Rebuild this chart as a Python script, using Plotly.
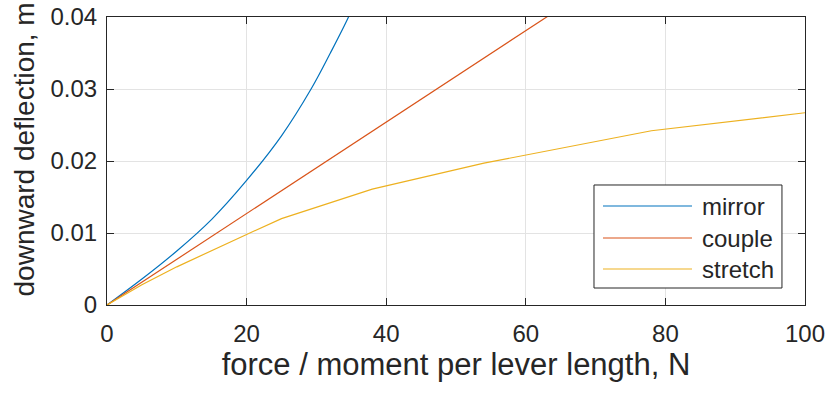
import plotly.graph_objects as go

# Deflection vs. applied force / moment for three lever configurations
mirror_force = [0, 5, 10, 15, 20, 25, 29.3, 32, 34.6, 36]
mirror_defl = [0, 0.0036, 0.0075, 0.0119, 0.0173, 0.0235, 0.0301, 0.0350, 0.0400, 0.0432]

couple_force = [0, 63, 100]
couple_defl = [0, 0.0400, 0.0635]

stretch_force = [0, 5, 10, 15, 20, 25, 38, 54, 78, 100]
stretch_defl = [0, 0.0028, 0.0053, 0.0076, 0.0098, 0.0120, 0.0161, 0.0197, 0.0242, 0.0267]

series_names = ["mirror", "couple", "stretch"]
series_colors = ["#0072BD", "#D95319", "#EDB120"]

x_ticks = [0, 20, 40, 60, 80, 100]
y_ticks = [0, 0.01, 0.02, 0.03, 0.04]

AX = "#262626"
GRID = "#e3e3e3"
FONT = "Liberation Sans, Arial, sans-serif"

fig = go.Figure()
for name, xs, ys, col, shape in zip(
    series_names,
    [mirror_force, couple_force, stretch_force],
    [mirror_defl, couple_defl, stretch_defl],
    series_colors,
    ["spline", "linear", "linear"],
):
    fig.add_trace(go.Scatter(x=xs, y=ys, mode="lines", name=name,
                             line=dict(color=col, width=1.2, shape=shape),
                             showlegend=False))

fig.update_layout(
    width=828, height=394,
    margin=dict(l=107, r=23, t=17, b=89),
    paper_bgcolor="white", plot_bgcolor="white",
    font=dict(family=FONT, color=AX, size=24),
)
fig.update_xaxes(
    range=[0, 100], tickvals=x_ticks, ticktext=[str(v) for v in x_ticks],
    showline=True, linecolor=AX, linewidth=1, mirror="ticks",
    ticks="inside", ticklen=7, tickcolor=AX, tickwidth=1,
    showgrid=True, gridcolor=GRID, gridwidth=1, zeroline=False,
    tickfont=dict(size=24, color=AX), ticklabelstandoff=7,
    title=dict(text="force / moment per lever length, N",
               font=dict(size=31, color=AX), standoff=6),
    automargin=False,
)
fig.update_yaxes(
    range=[0, 0.04], tickvals=y_ticks, ticktext=["0", "0.01", "0.02", "0.03", "0.04"],
    showline=True, linecolor=AX, linewidth=1, mirror="ticks",
    ticks="inside", ticklen=7, tickcolor=AX, tickwidth=1,
    showgrid=True, gridcolor=GRID, gridwidth=1, zeroline=False,
    tickfont=dict(size=24, color=AX), ticklabelstandoff=4,
    automargin=False,
)

# Vertical axis title, placed slightly above the plot-area centre
fig.add_annotation(x=0, xref="paper", y=0.54, yref="paper", xshift=-83,
                   text="downward deflection, m", textangle=-90, showarrow=False,
                   xanchor="center", yanchor="middle",
                   font=dict(size=28, color=AX, family=FONT))

# Boxed legend with long line samples
leg_x0, leg_x1, leg_y0, leg_y1 = 0.6977, 0.967, 0.059, 0.4167
fig.add_shape(type="rect", xref="paper", yref="paper",
              x0=leg_x0, x1=leg_x1, y0=leg_y0, y1=leg_y1,
              line=dict(color=AX, width=1), fillcolor="white", layer="above")
row_y = [0.34375, 0.2326, 0.125]
for name, col, yy in zip(series_names, series_colors, row_y):
    fig.add_shape(type="line", xref="paper", yref="paper",
                  x0=0.7106, x1=0.8381, y0=yy, y1=yy,
                  line=dict(color=col, width=1.2), layer="above")
    fig.add_annotation(x=0.8496, y=yy, xref="paper", yref="paper",
                       text=name, showarrow=False, xanchor="left", yanchor="middle",
                       font=dict(size=24, color=AX, family=FONT))

fig.write_html("out.html")
